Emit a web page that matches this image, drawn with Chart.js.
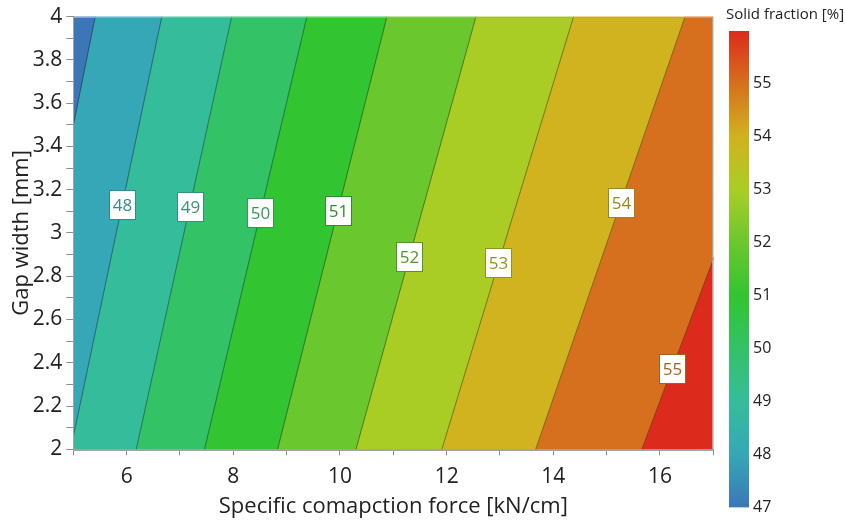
<!DOCTYPE html>
<html>
<head>
<meta charset="utf-8">
<script src="https://cdn.jsdelivr.net/npm/chart.js@4.4.1/dist/chart.umd.min.js"></script>
<style>
  html, body { margin: 0; padding: 0; background: #fff; }
  #wrap { position: relative; width: 845px; height: 521px; }
  #main { position: absolute; left: 0; top: 0; }
  #bar { position: absolute; left: 715px; top: 0; }
</style>
</head>
<body>
<div id="wrap">
  <canvas id="main" width="845" height="521"></canvas>
  <canvas id="bar" width="130" height="521"></canvas>
</div>
<script>
// contour levels (solid fraction %) and where each iso-line crosses gap = 2 mm and gap = 4 mm
const levels = [47, 48, 49, 50, 51, 52, 53, 54, 55];
const xAtGap2 = [3.78, 4.95, 6.18, 7.46, 8.83, 10.30, 11.91, 13.67, 15.66];
const xAtGap4 = [5.41, 6.66, 7.97, 9.38, 10.88, 12.55, 14.38, 16.47, 18.71];
// gap width where the inline label of each line sits (null = no label)
const labelGap = [null, 3.13, 3.12, 3.09, 3.10, 2.89, 2.86, 3.14, 2.37];

const xTicks = [5, 6, 7, 8, 9, 10, 11, 12, 13, 14, 15, 16, 17];
const xLabelled = [6, 8, 10, 12, 14, 16];
const yTicks = [2, 2.1, 2.2, 2.3, 2.4, 2.5, 2.6, 2.7, 2.8, 2.9, 3, 3.1, 3.2, 3.3, 3.4, 3.5, 3.6, 3.7, 3.8, 3.9, 4];
const yLabelled = [2, 2.2, 2.4, 2.6, 2.8, 3, 3.2, 3.4, 3.6, 3.8, 4];
const colorbarTicks = [47, 48, 49, 50, 51, 52, 53, 54, 55];
const colorbarRange = [47, 56];

// colours: one per band (below 47 ... above 55), gradient stops for 47..56, label colours per level
const bandColors = ['#3b77b7', '#36a7b6', '#35bd9b', '#33c266', '#33c431', '#6bc72e', '#aacd26', '#d1b21f', '#d6701e', '#dc2b1c'];
const gradientStops = ['#3b77b7', '#36a7b6', '#35bd9b', '#33c266', '#33c431', '#6bc72e', '#aacd26', '#d1b21f', '#d6701e', '#dc2b1c'];
const labelColors = [null, '#2f8c96', '#2f9477', '#2f9c4c', '#2b8f2b', '#4e9625', '#84991d', '#9a861c', '#a4631c'];

const FONT = '"Open Sans", "Noto Sans", sans-serif';
const near = (arr, v) => arr.some(a => Math.abs(a - v) < 1e-6);

// band polygons between consecutive iso-lines (outer bands reach past the axes, clipped by the chart area)
const edges = [{ bot: -5, top: -5 }]
  .concat(levels.map((l, i) => ({ bot: xAtGap2[i], top: xAtGap4[i] })))
  .concat([{ bot: 30, top: 30 }]);

const bandSets = bandColors.map((c, i) => ({
  data: [
    { x: edges[i].bot, y: 2 }, { x: edges[i].top, y: 4 },
    { x: edges[i + 1].top, y: 4 }, { x: edges[i + 1].bot, y: 2 }
  ],
  showLine: true, fill: 'shape', backgroundColor: c, borderColor: c, borderWidth: 0.6,
  pointRadius: 0, clip: 0, order: 2
}));

const lineSets = levels.map((l, i) => ({
  data: [{ x: xAtGap2[i], y: 2 }, { x: xAtGap4[i], y: 4 }],
  showLine: true, fill: false, borderColor: 'rgba(0,0,0,0.4)', borderWidth: 1,
  pointRadius: 0, clip: 0, order: 1
}));

const frameAndLabels = {
  id: 'frameAndLabels',
  afterDraw(chart) {
    const { ctx, chartArea: a, scales: { x, y } } = chart;
    ctx.save();
    ctx.strokeStyle = '#a3a3a3';
    ctx.lineWidth = 1;
    ctx.strokeRect(Math.round(a.left) + 0.5, Math.round(a.top) + 0.5, Math.round(a.right - a.left) - 1, Math.round(a.bottom - a.top));
    ctx.font = '17px ' + FONT;
    ctx.textAlign = 'center';
    ctx.textBaseline = 'middle';
    levels.forEach((lvl, i) => {
      const g = labelGap[i];
      if (g == null) return;
      const t = (g - 2) / 2;
      const px = Math.round(x.getPixelForValue(xAtGap2[i] + t * (xAtGap4[i] - xAtGap2[i])));
      const py = Math.round(y.getPixelForValue(g));
      ctx.fillStyle = '#fff';
      ctx.fillRect(px - 13, py - 15, 27, 30);
      ctx.strokeStyle = labelColors[i];
      ctx.strokeRect(px - 12.5, py - 14.5, 26, 29);
      ctx.fillStyle = labelColors[i];
      ctx.fillText(String(lvl), px + 0.5, py + 1);
    });
    ctx.restore();
  }
};

new Chart(document.getElementById('main'), {
  type: 'scatter',
  data: { datasets: bandSets.concat(lineSets) },
  options: {
    responsive: false,
    animation: false,
    events: [],
    layout: { padding: { top: 15, right: 131.7, left: 0, bottom: 0 } },
    plugins: { legend: { display: false }, tooltip: { enabled: false } },
    scales: {
      x: {
        type: 'linear', min: 5, max: 17,
        afterBuildTicks: s => { s.ticks = xTicks.map(v => ({ value: v })); },
        afterFit: s => { s.height = 71.7; },
        ticks: {
          callback: v => near(xLabelled, v) ? String(v) : '',
          autoSkip: false, maxRotation: 0, padding: 9,
          font: { family: FONT, size: 21 }, color: '#222'
        },
        grid: { drawOnChartArea: false, tickColor: '#8f8f8f', tickLength: 6 },
        border: { color: '#a3a3a3' },
        title: {
          display: true, text: 'Specific comapction force [kN/cm]',
          font: { family: FONT, size: 22 }, color: '#222', padding: { top: 0, bottom: 1 }
        }
      },
      y: {
        type: 'linear', min: 2, max: 4, z: 1,
        afterBuildTicks: s => { s.ticks = yTicks.map(v => ({ value: v })); },
        afterFit: s => { s.width = 73.3; },
        ticks: {
          callback: v => near(yLabelled, v) ? String(Math.round(v * 10) / 10) : '',
          autoSkip: false, padding: 4,
          font: { family: FONT, size: 21 }, color: '#222'
        },
        grid: {
          color: c => (c.tick && near(yLabelled, c.tick.value) && c.tick.value > 2 && c.tick.value < 4) ? 'rgba(255,255,255,0.2)' : 'rgba(0,0,0,0)',
          tickColor: '#8f8f8f', tickLength: 7
        },
        border: { color: '#a3a3a3' },
        title: {
          display: true, text: 'Gap width [mm]',
          font: { family: FONT, size: 22 }, color: '#222', padding: { top: 9, bottom: 0 }
        }
      }
    }
  },
  plugins: [frameAndLabels]
});

const colorbarTitle = {
  id: 'colorbarTitle',
  afterDraw(chart) {
    const ctx = chart.ctx;
    ctx.save();
    ctx.font = '15px ' + FONT;
    ctx.fillStyle = '#222';
    ctx.textAlign = 'left';
    ctx.textBaseline = 'middle';
    ctx.fillText('Solid fraction [%]', 11, 15);
    ctx.restore();
  }
};

new Chart(document.getElementById('bar'), {
  type: 'bar',
  data: {
    labels: ['Solid fraction'],
    datasets: [{
      data: [colorbarRange],
      barPercentage: 1, categoryPercentage: 1, borderWidth: 0,
      backgroundColor: c => {
        const { chart } = c;
        if (!chart.chartArea) return gradientStops[0];
        const ys = chart.scales.y;
        const g = chart.ctx.createLinearGradient(0, ys.getPixelForValue(colorbarRange[0]), 0, ys.getPixelForValue(colorbarRange[1]));
        gradientStops.forEach((col, i) => g.addColorStop(i / (gradientStops.length - 1), col));
        return g;
      }
    }]
  },
  options: {
    responsive: false,
    animation: false,
    events: [],
    layout: { padding: { top: 31, bottom: 11, left: 14, right: 0 } },
    plugins: { legend: { display: false }, tooltip: { enabled: false } },
    scales: {
      x: { display: false },
      y: {
        position: 'right', min: colorbarRange[0], max: colorbarRange[1],
        afterBuildTicks: s => { s.ticks = colorbarTicks.map(v => ({ value: v })); },
        afterFit: s => { s.width = 96; },
        grid: { display: false, drawTicks: false },
        border: { display: false },
        ticks: { padding: 4, font: { family: FONT, size: 16 }, color: '#222' }
      }
    }
  },
  plugins: [colorbarTitle]
});
</script>
</body>
</html>
